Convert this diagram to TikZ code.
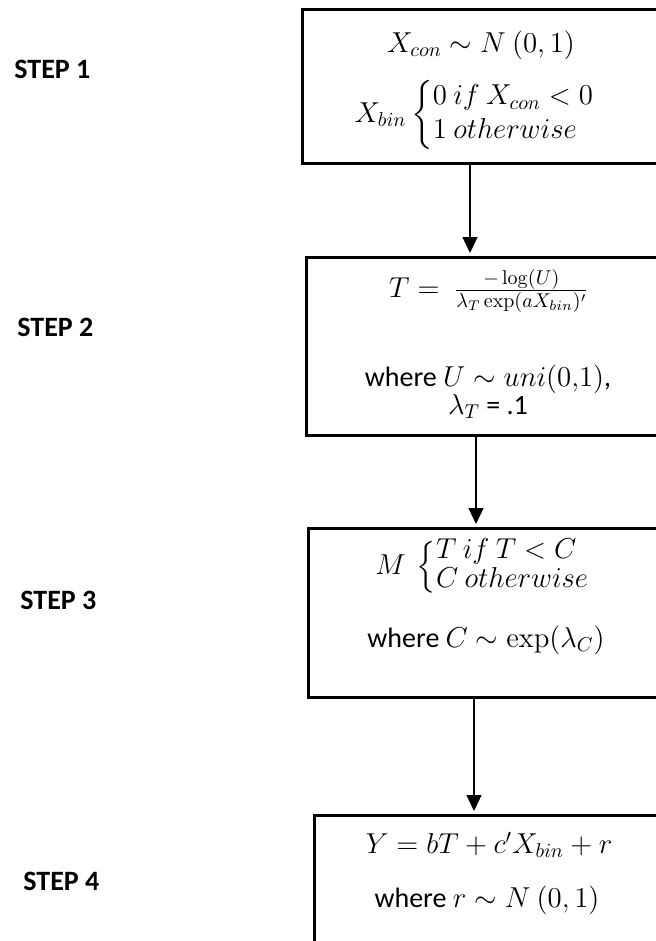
\documentclass[tikz,border=0pt]{standalone}
\usepackage{amsmath}
\usepackage[no-math]{fontspec}
\setmainfont{Carlito}
\usepackage{tikz}
\usetikzlibrary{arrows.meta}

\tikzset{
  stepbox/.style={draw, line width=1.3pt, inner sep=0pt, anchor=north west},
  steptext/.style={font=\fontsize{14}{17}\selectfont, inner sep=0pt, align=center},
  steplabel/.style={font=\fontsize{14}{17}\selectfont\bfseries, anchor=west, inner sep=0pt},
  flow/.style={-{Triangle[width=7.5pt,length=8pt]}, line width=0.6pt, shorten >=1.5pt}
}

\begin{document}
\begin{tikzpicture}[x=0.5pt,y=-0.5pt]

\useasboundingbox (0,0) rectangle (656,941);
\clip (0,0) rectangle (656,941);

% the four boxes (they run off the right edge)
\node[stepbox, minimum width=181.5pt, minimum height=77pt]  (s1) at (301,8) {};
\node[stepbox, minimum width=179.5pt, minimum height=89pt]  (s2) at (305,256) {};
\node[stepbox, minimum width=178.5pt, minimum height=84.5pt] (s3) at (307,527) {};
\node[stepbox, minimum width=175.5pt, minimum height=100pt] (s4) at (313,814) {};

% step 1
\node[steptext] (c1) at (481,45) {$X_{con} \sim N\ (0, 1)$};
\node[steptext] (b1) at (475,115)
  {$X_{bin}\left\{\begin{array}{@{}l@{}}0\ if\ X_{con}<0\\ 1\ otherwise\end{array}\right.$};

% step 2
\node[steptext] (t2) at (489,291) {$T =\ \tfrac{-\log(U)}{\lambda_T\exp(aX_{bin})'}$};
\node[steptext] (w2) at (488,392) {where $U \sim uni(0{,}1)$,\\[-3pt] $\lambda_T$ = .1};

% step 3
\node[steptext] (m3) at (483,567)
  {$M\ \renewcommand{\arraystretch}{0.8}\left\{\begin{array}{@{}l@{}}T\ if\ T<C\\ C\ otherwise\end{array}\right.$};
\node[steptext] (w3) at (486,640) {where $C \sim \exp(\lambda_C)$};

% step 4
\node[steptext] (y4) at (489,845) {$Y = bT + c'X_{bin} + r$};
\node[steptext] (w4) at (487,900) {where $r \sim N\ (0, 1)$};

% labels on the left
\foreach \i/\x/\y in {1/14/69, 2/17/327, 3/20/600, 4/23/881}
    \node[steplabel] (l\i) at (\x,\y) {STEP \i};

% arrows between the boxes
\foreach \a/\b/\x in {s1/s2/470, s2/s3/476, s3/s4/474}
    \draw[flow] (\x,0 |- \a.south) -- (\x,0 |- \b.north);

\end{tikzpicture}
\end{document}
